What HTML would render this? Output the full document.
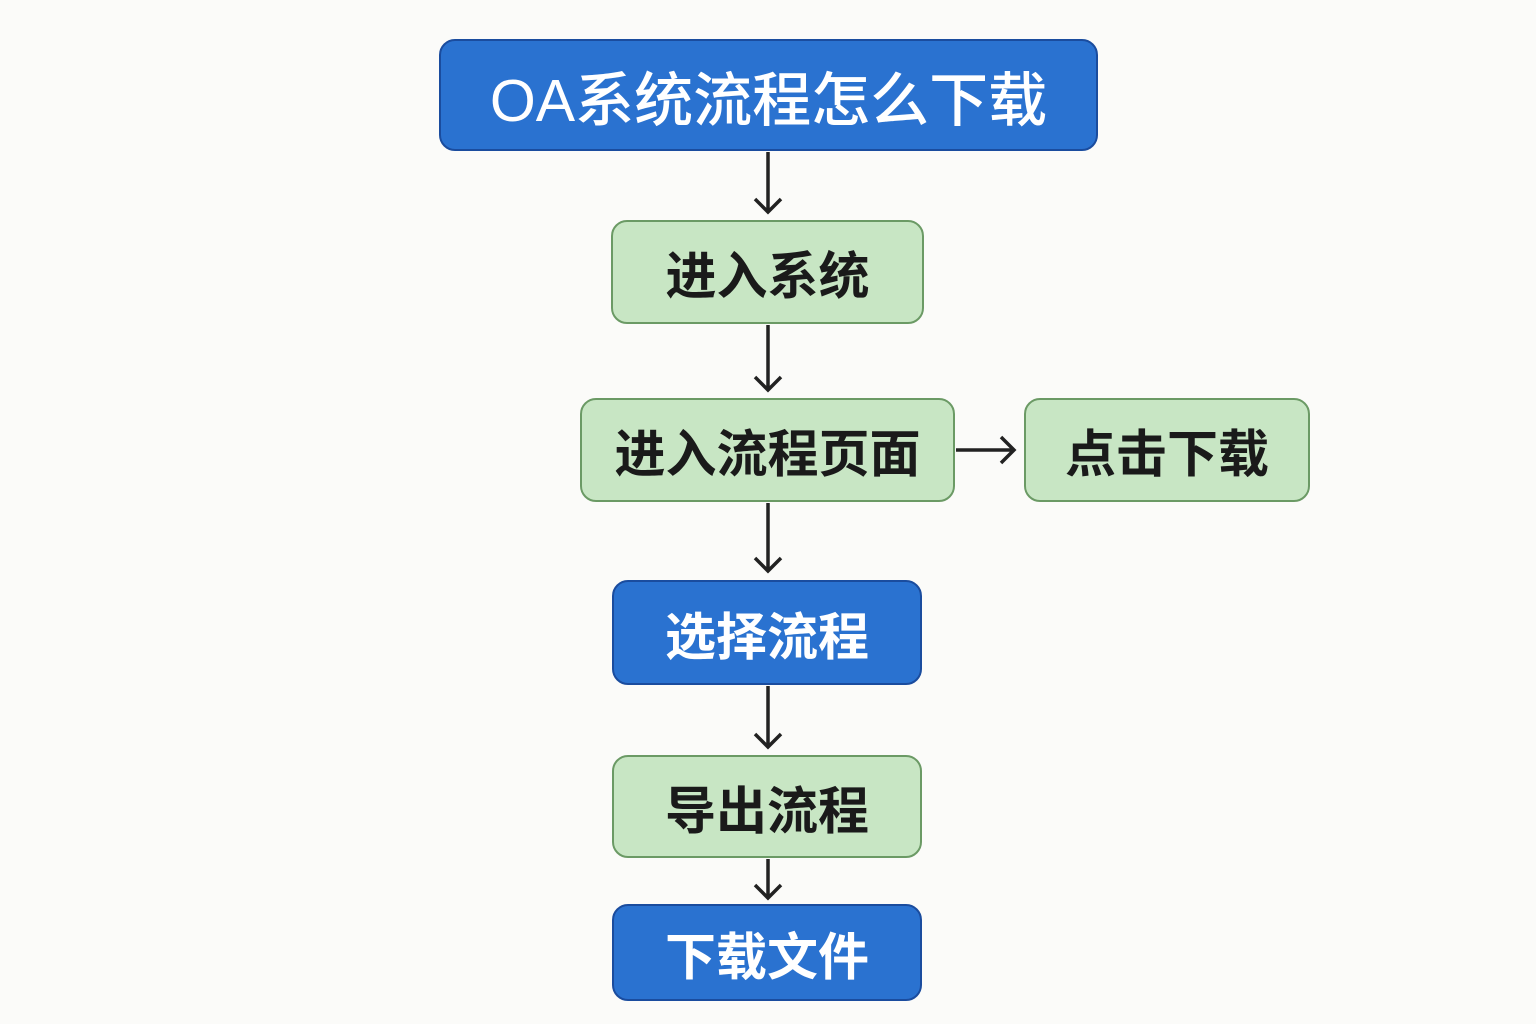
<!DOCTYPE html>
<html><head><meta charset="utf-8"><style>
body{margin:0;width:1536px;height:1024px;background:#fbfbf9;position:relative;overflow:hidden;font-family:"Liberation Sans","Noto Sans CJK SC",sans-serif;}
.b{position:absolute;box-sizing:border-box;border-radius:16px;display:flex;align-items:center;justify-content:center;font-weight:bold;white-space:nowrap;}
.blue{background:#2a72d0;border:2.5px solid #1a4c9e;color:#fff;}
.green{background:#c8e6c4;border:2.5px solid #6b9a65;color:#1a1a1a;}
</style></head><body>
<div class="b blue" style="left:439px;top:39px;width:659px;height:112px;font-size:59px;font-weight:500">OA系统流程怎么下载</div>
<div class="b green" style="left:611px;top:220px;width:313px;height:104px;font-size:51px">进入系统</div>
<div class="b green" style="left:580px;top:398px;width:375px;height:104px;font-size:51px">进入流程页面</div>
<div class="b green" style="left:1024px;top:398px;width:286px;height:104px;font-size:51px">点击下载</div>
<div class="b blue" style="left:612px;top:580px;width:310px;height:105px;font-size:51px">选择流程</div>
<div class="b green" style="left:612px;top:755px;width:310px;height:103px;font-size:51px">导出流程</div>
<div class="b blue" style="left:612px;top:904px;width:310px;height:97px;font-size:51px">下载文件</div>
<svg width="1536" height="1024" style="position:absolute;left:0;top:0" fill="none" stroke="#222" stroke-width="3.5">
<path d="M768 152V212M755 199L768 212L781 199"/>
<path d="M768 325V390M755 377L768 390L781 377"/>
<path d="M768 503V571M755 558L768 571L781 558"/>
<path d="M768 686V747M755 734L768 747L781 734"/>
<path d="M768 859V898M755 885L768 898L781 885"/>
<path d="M956 450H1014M1001 437L1014 450L1001 463"/>
</svg>
</body></html>
